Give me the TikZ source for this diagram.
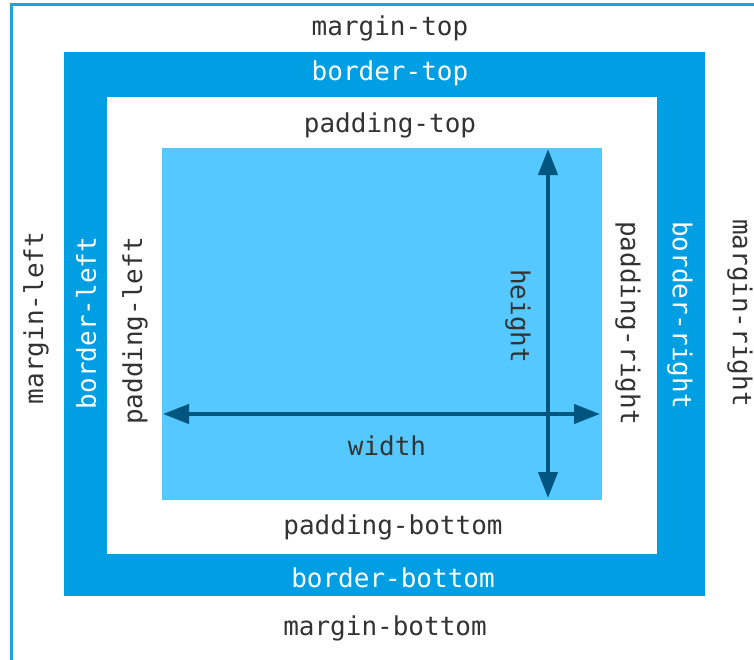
\documentclass[tikz,border=0pt]{standalone}
\usepackage{fontspec}
\setmonofont{DejaVu Sans Mono}
\usetikzlibrary{arrows.meta}
\definecolor{bordblue}{HTML}{009FE3}
\definecolor{linblue}{HTML}{1AA3E2}
\definecolor{contblue}{HTML}{55C9FF}
\definecolor{arrblue}{HTML}{00567F}
\definecolor{txt}{HTML}{333333}
\tikzset{
  lbl/.style={font=\ttfamily\fontsize{26}{28}\selectfont, text=txt, inner sep=0pt, anchor=center},
  wlbl/.style={lbl, text=white},
  dim/.style={draw=arrblue, line width=4.2pt, -{Triangle[length=26pt,width=19pt]}, shorten <=0pt, shorten >=0pt},
}
\begin{document}
\begin{tikzpicture}[x=1pt,y=-1pt]
\useasboundingbox (0,0) rectangle (754,659);
\fill[white] (0,0) rectangle (754,659);
% outer margin box (only top and left edges visible)
\draw[linblue, line width=2.6pt] (11.3,664) -- (11.3,4.7) -- (760,4.7);
% border box
\fill[bordblue] (64,52) rectangle (705,596);
% padding box
\fill[white] (107,97) rectangle (657,554);
% content box
\fill[contblue] (162,148) rectangle (602,500);
% labels
\node[lbl] (mt) at (390,28) {margin-top};
\node[wlbl] (bt) at (390,73) {border-top};
\node[lbl] (pt) at (390,125) {padding-top};
\node[lbl] (pb) at (393,527) {padding-bottom};
\node[wlbl] (bb) at (393,578) {border-bottom};
\node[lbl] (mb) at (385,628) {margin-bottom};
\node[lbl, rotate=90] (ml) at (36,318) {margin-left};
\node[wlbl, rotate=90] (bl) at (86,323) {border-left};
\node[lbl, rotate=90] (pl) at (135,331) {padding-left};
\node[lbl, rotate=-90] (hh) at (518,316) {height};
\node[lbl, rotate=-90] (pr) at (628,323) {padding-right};
\node[wlbl, rotate=-90] (br) at (680,315) {border-right};
\node[lbl, rotate=-90] (mr) at (740,313) {margin-right};
\node[lbl] (ww) at (387,446) {width};
% dimension arrows
\coordinate (wc) at (381,414);
\coordinate (wl) at (163,414);
\coordinate (wr) at (600,414);
\coordinate (hc) at (548,323);
\coordinate (ht) at (548,149);
\coordinate (hb) at (548,498);
\draw[dim] (wc) -- (wl);
\draw[dim] (wc) -- (wr);
\draw[dim] (hc) -- (ht);
\draw[dim] (hc) -- (hb);
\end{tikzpicture}
\end{document}
